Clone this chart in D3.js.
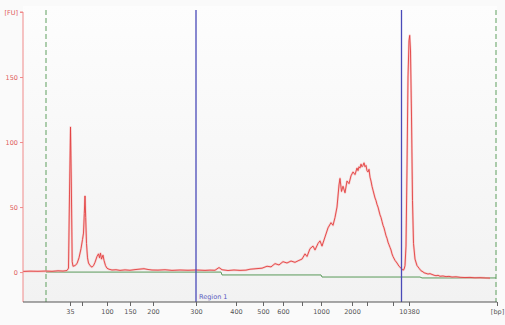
<!DOCTYPE html>
<html>
<head>
<meta charset="utf-8">
<script src="https://cdn.jsdelivr.net/npm/d3@7/dist/d3.min.js"></script>
<style>
  html, body { margin: 0; padding: 0; background: #ffffff; }
  svg { display: block; font-family: "DejaVu Sans", Verdana, sans-serif; }
</style>
</head>
<body>
<svg id="chart" width="505" height="325"></svg>
<script>
// Ladder: fragment sizes (bp) and their migration times (s)
const ladderBp   = [35, 50, 100, 150, 200, 300, 400, 500, 600, 700, 1000, 2000, 3000, 7000, 10380];
const ladderTime = [44.4, 46.8, 51.8, 56.4, 61.0, 69.6, 77.6, 83.0, 87.0, 90.8, 94.6, 100.8, 103.8, 109.0, 112.2];
const labelledBp = [35, 100, 150, 200, 300, 400, 500, 600, 1000, 2000, 10380];

// Fluorescence ticks (FU)
const fuTicks = [0, 50, 100, 150];

// Sample electropherogram: migration time (s) and fluorescence (FU)
const traceTime = [
  35.0, 36.4, 38.0, 39.6, 40.8, 42.0, 43.0, 43.8, 44.1, 44.3, 44.5, 44.66, 44.84, 45.0, 45.4, 45.8,
  46.2, 46.6, 46.9, 47.1, 47.26, 47.4, 47.54, 47.7, 47.9, 48.1, 48.4, 48.8, 49.1, 49.4, 49.8, 50.1,
  50.3, 50.5, 50.7, 51.0, 51.2, 51.5, 51.8, 52.2, 52.8, 53.6, 54.4, 55.4, 56.4, 57.4, 58.4, 59.2,
  60.0, 60.8, 62.0, 63.4, 64.8, 66.4, 68.0, 69.6, 71.4, 72.4, 73.4, 74.2, 74.8, 76.0, 77.2, 78.4,
  79.6, 80.4, 81.6, 82.8, 83.8, 84.6, 85.4, 86.2, 87.0, 87.8, 88.6, 89.4, 90.2, 90.8, 91.4, 91.8,
  92.4, 93.0, 93.4, 94.0, 94.4, 94.8, 95.4, 96.0, 96.6, 97.0, 97.4, 97.8, 98.2, 98.4, 98.7, 99.0,
  99.4, 99.8, 100.2, 100.6, 101.0, 101.4, 101.8, 102.0, 102.2, 102.4, 102.6, 102.8, 103.0, 103.2, 103.4, 103.6,
  103.8, 104.0, 104.2, 104.4, 104.6, 104.8, 105.0, 105.2, 105.4, 105.6, 105.8, 106.0, 106.2, 106.4, 106.6, 106.8,
  107.0, 107.2, 107.4, 107.6, 107.8, 108.0, 108.2, 108.4, 108.6, 108.8, 109.0, 109.4, 109.8, 110.2, 110.6, 111.0,
  111.2, 111.4, 111.6, 111.8, 112.0, 112.2, 112.34, 112.5, 112.7, 112.9, 113.1, 113.4, 113.8, 114.0, 114.2, 114.6,
  115.0, 115.2, 115.6, 116.0, 116.4, 116.8, 117.2, 117.6, 118.0, 118.4, 119.0, 119.6, 120.2, 120.8, 121.6, 122.4,
  123.4, 124.4, 125.4, 126.4, 127.4, 128.4, 129.8
];
const traceFu = [
  0.5, 0.7, 0.6, 0.8, 0.6, 1.0, 0.8, 1.2, 3, 60, 111.5, 70, 8, 4.5, 5, 6.5,
  11, 18, 25, 30, 45, 58.5, 42, 22, 11, 7, 5, 3.8, 5, 7.5, 12, 14,
  11, 14.5, 10, 13, 9, 5, 3, 2.2, 1.6, 1.8, 1.3, 1.7, 1.4, 1.9, 2.3, 2.6,
  2.0, 1.6, 1.5, 1.8, 1.3, 1.6, 1.4, 1.6, 1.3, 1.5, 1.4, 3.5, 1.8, 1.2, 1.6, 1.3,
  1.5, 2.2, 2.6, 3.0, 4.5, 4.0, 6.5, 5.5, 8.0, 7.0, 8.5, 7.5, 9, 10, 14, 12,
  18, 20, 17, 22, 24, 20, 27, 34, 38, 36, 42, 50, 67, 72, 62, 66,
  61, 70, 68, 74, 77, 75, 80, 78, 81, 80, 83, 81, 82, 84, 81, 82,
  78, 77, 79, 73, 70, 66, 63, 60, 57, 55, 52, 50, 47, 44, 42, 39,
  36, 34, 31, 28, 26, 23, 21, 19, 17, 14, 12, 9, 7, 4.5, 3, 1.5,
  2, 5, 20, 80, 150, 178, 182, 170, 120, 55, 22, 10, 5, 4, 3, 1,
  0.2, -0.5, -1.0, -1.5, -1.2, -1.8, -2.4, -2.8, -2.5, -3.2, -3.0, -3.5, -3.3, -3.8, -3.6, -4.0,
  -4.2, -4.1, -4.4, -4.3, -4.5, -4.6
];

// Integration baseline (time s, FU)
const baseTime = [39.6, 74.6, 74.8, 94.6, 94.8, 114.4, 114.8, 129.6];
const baseFu   = [0, 0, -2.2, -2.2, -3.8, -3.8, -4.5, -4.5];

// Marker window and region limits (s)
const markerLimits = [39.6, 129.6];
const regionLimits = [69.6, 110.7];
const regionName = "Region 1";

const timeDomain = [35, 129.8];
const fuDomain = [-23, 200];

const svg = d3.select("#chart");
const W = 505, H = 325;
const m = { left: 23, right: 8, top: 12, bottom: 23 };

const x = d3.scaleLinear().domain(timeDomain).range([m.left, W - m.right]);
const y = d3.scaleLinear().domain(fuDomain).range([H - m.bottom, m.top]);

// plot backdrop
const defs = svg.append("defs");
const grad = defs.append("linearGradient").attr("id", "bg").attr("x1", 0).attr("x2", 0).attr("y1", 0).attr("y2", 1);
grad.append("stop").attr("offset", "0%").attr("stop-color", "#fdfdfd");
grad.append("stop").attr("offset", "100%").attr("stop-color", "#f2f2f2");
svg.append("rect").attr("x", 0).attr("y", 0).attr("width", W).attr("height", H).attr("fill", "#fafafa");
svg.append("rect")
  .attr("x", x(timeDomain[0])).attr("y", y(fuDomain[1]) - 6)
  .attr("width", x(timeDomain[1]) - x(timeDomain[0]))
  .attr("height", y(fuDomain[0]) - y(fuDomain[1]) + 6)
  .attr("fill", "url(#bg)");

// marker window (dashed green)
svg.selectAll("line.marker").data(markerLimits).enter().append("line")
  .attr("class", "marker")
  .attr("x1", d => x(d)).attr("x2", d => x(d))
  .attr("y1", y(fuDomain[1]) - 2).attr("y2", y(fuDomain[0]))
  .attr("stroke", "#5f9f5f").attr("stroke-width", 1)
  .attr("stroke-dasharray", "5,3");

// baseline
const baseData = baseTime.map((t, i) => [t, baseFu[i]]);
svg.append("path").datum(baseData)
  .attr("fill", "none").attr("stroke", "#5a9a5a").attr("stroke-width", 1)
  .attr("d", d3.line().x(d => x(d[0])).y(d => y(d[1])));

// trace
const traceData = traceTime.map((t, i) => [t, traceFu[i]]);
const line = d3.line().x(d => x(d[0])).y(d => y(d[1]));
svg.append("path").datum(traceData)
  .attr("fill", "none").attr("stroke", "#f6b0b0").attr("stroke-width", 2.2)
  .attr("stroke-linejoin", "round").attr("opacity", 0.6)
  .attr("d", line);
svg.append("path").datum(traceData)
  .attr("fill", "none").attr("stroke", "#e2403f").attr("stroke-width", 0.9)
  .attr("stroke-linejoin", "round")
  .attr("d", line);

// region limits (blue)
svg.selectAll("line.region").data(regionLimits).enter().append("line")
  .attr("class", "region")
  .attr("x1", d => x(d)).attr("x2", d => x(d))
  .attr("y1", y(fuDomain[1]) - 2).attr("y2", y(fuDomain[0]))
  .attr("stroke", "#4a4ab8").attr("stroke-width", 1.3);
svg.append("text")
  .attr("x", x(regionLimits[0]) + 3).attr("y", y(fuDomain[0]) - 3)
  .attr("font-size", 6.5).attr("fill", "#5a5ac0")
  .text(regionName);

// y axis (FU)
const yAxis = d3.axisLeft(y).tickValues(fuTicks.concat([fuDomain[1]])).tickSize(3).tickPadding(2)
  .tickFormat(d => d === fuDomain[1] ? "[FU]" : d);
const gy = svg.append("g").attr("transform", `translate(${m.left},0)`).call(yAxis);
gy.select(".domain").attr("stroke", "#f08a8a").attr("d", `M-3,${y(fuDomain[1])}H0V${y(fuDomain[0])}`);
gy.selectAll(".tick line").attr("stroke", "#f08a8a");
gy.selectAll(".tick text").attr("fill", "#e05a5a").attr("font-size", 6.5)
  .attr("font-family", "DejaVu Sans, Verdana, sans-serif");

// x axis (bp at ladder times)
const tickTimes = ladderTime.concat([timeDomain[1]]);
const xAxis = d3.axisBottom(x).tickValues(tickTimes).tickSize(4).tickPadding(3)
  .tickFormat(t => {
    if (t === timeDomain[1]) return "[bp]";
    const bp = ladderBp[ladderTime.indexOf(t)];
    return labelledBp.includes(bp) ? bp : "";
  });
const gx = svg.append("g").attr("transform", `translate(0,${y(fuDomain[0])})`).call(xAxis);
gx.select(".domain").attr("stroke", "#555").attr("d", `M${x(timeDomain[0])},0H${x(timeDomain[1])}`);
gx.selectAll(".tick line").attr("stroke", "#666");
gx.selectAll(".tick text").attr("fill", "#555").attr("font-size", 6.5)
  .attr("font-family", "DejaVu Sans, Verdana, sans-serif");
</script>
</body>
</html>
